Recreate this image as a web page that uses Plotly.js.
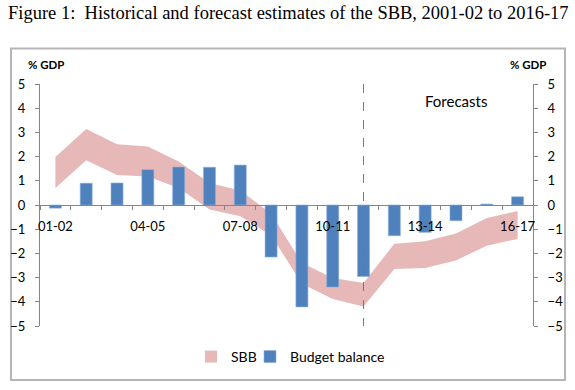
<!DOCTYPE html>
<html>
<head>
<meta charset="utf-8">
<script src="https://cdn.plot.ly/plotly-3.0.1.min.js"></script>
<style>html,body{margin:0;padding:0;background:#fff;}#chart{width:575px;height:390px;}</style>
</head>
<body>
<div id="chart"></div>
<script>
// ---- data ----
const CATEGORIES = ['01-02','02-03','03-04','04-05','05-06','06-07','07-08','08-09',
                    '09-10','10-11','11-12','12-13','13-14','14-15','15-16','16-17'];
const TICK_LABELS = ['01-02','','','04-05','','','07-08','','','10-11','','','13-14','','','16-17'];
const BUDGET_BALANCE = [-0.13, 0.90, 0.91, 1.46, 1.57, 1.56, 1.65, -2.15,
                        -4.21, -3.39, -2.95, -1.27, -1.13, -0.65, 0.04, 0.34];
const SBB_UPPER = [1.98, 3.14, 2.51, 2.42, 1.80, 0.91, 0.60, -0.35,
                   -2.40, -3.02, -3.22, -1.60, -1.50, -1.18, -0.54, -0.25];
const SBB_LOWER = [0.70, 1.85, 1.24, 1.18, 0.70, -0.19, -0.47, -1.25,
                   -3.25, -3.88, -4.19, -2.64, -2.60, -2.29, -1.68, -1.40];
const FORECAST_START = '11-12';
const FORECAST_LABEL_AT = {x: '14-15', y: 4.3};

const PINK = '#E6B9B8';
const BLUE = '#4F81BD';
const AXIS = '#868686';
const FONT = 'Lato, "Open Sans", sans-serif';

const traces = [
  {x: CATEGORIES, y: SBB_UPPER, type: 'scatter', mode: 'lines',
   line: {width: 0, color: PINK}, showlegend: false, hoverinfo: 'skip', yaxis: 'y'},
  {x: CATEGORIES, y: SBB_LOWER, type: 'scatter', mode: 'lines', fill: 'tonexty',
   fillcolor: PINK, line: {width: 0, color: PINK}, showlegend: false, name: 'SBB', yaxis: 'y'},
  {x: [CATEGORIES[0]], y: [null], type: 'bar', name: 'SBB', marker: {color: PINK},
   yaxis: 'y2', legend: 'legend'},
  {x: CATEGORIES, y: BUDGET_BALANCE, type: 'bar', name: 'Budget balance',
   marker: {color: BLUE, line: {color: '#8eaedb', width: 0.6}}, yaxis: 'y2', legend: 'legend2'}
];

const yCommon = {
  range: [-5, 5], dtick: 1, showgrid: false, zeroline: false,
  showline: true, linecolor: AXIS, linewidth: 1,
  ticks: 'outside', ticklen: 4, tickcolor: AXIS, ticklabelstandoff: 7,
  tickfont: {family: FONT, size: 13, color: '#000'}, fixedrange: true
};

const legendCommon = {
  orientation: 'h', xanchor: 'left', y: -0.128, yanchor: 'middle',
  font: {family: FONT, size: 14, color: '#000'}, itemclick: false, bgcolor: 'rgba(0,0,0,0)'
};

const layout = {
  width: 575, height: 390,
  margin: {l: 40, r: 42, t: 84, b: 64},
  paper_bgcolor: '#fff', plot_bgcolor: 'rgba(0,0,0,0)',
  title: {text: 'Figure 1:  Historical and forecast estimates of the SBB, 2001-02 to 2016-17',
          font: {family: '"Liberation Serif", "Times New Roman", serif', size: 18.5, color: '#000'},
          x: 8/575, xref: 'container', xanchor: 'left', y: 1 - 13/390, yref: 'container', yanchor: 'middle'},
  barmode: 'overlay', bargap: 0.61,
  showlegend: true,
  legend: Object.assign({}, legendCommon, {x: (191-40)/493}),
  legend2: Object.assign({}, legendCommon, {x: (250-40)/493}),
  xaxis: {
    type: 'category', range: [-0.5, 15.5], anchor: 'free', position: 0.5,
    tickmode: 'array', tickvals: CATEGORIES, ticktext: TICK_LABELS, tickson: 'boundaries',
    ticks: 'outside', ticklen: 4, tickcolor: AXIS, showline: true, linecolor: AXIS, linewidth: 1,
    showgrid: false, zeroline: false, tickangle: 0, ticklabelstandoff: 9,
    tickfont: {family: FONT, size: 13, color: '#000'}, fixedrange: true
  },
  yaxis: Object.assign({}, yCommon, {side: 'left'}),
  yaxis2: Object.assign({}, yCommon, {side: 'right', overlaying: 'y'}),
  shapes: [
    {type: 'line', xref: 'x', yref: 'y', x0: FORECAST_START, x1: FORECAST_START, y0: 5, y1: -5,
     line: {color: BLUE, width: 1, dash: 'dash'}},
    {type: 'rect', xref: 'paper', yref: 'paper', x0: (11-40)/493, x1: (565-40)/493,
     y0: (326-380)/242, y1: (326-48.5)/242, line: {color: '#b5b5b5', width: 2}, layer: 'below'}
  ],
  annotations: [
    {text: 'Forecasts', x: FORECAST_LABEL_AT.x, y: FORECAST_LABEL_AT.y, xref: 'x', yref: 'y',
     xanchor: 'center', yanchor: 'middle',
     showarrow: false, font: {family: FONT, size: 15, color: '#000'}},
    {text: '<b>% GDP</b>', xref: 'paper', yref: 'paper', x: (46-40)/493, y: (326-64)/242,
     xanchor: 'center', yanchor: 'middle',
     showarrow: false, font: {family: FONT, size: 11.5, color: '#000'}},
    {text: '<b>% GDP</b>', xref: 'paper', yref: 'paper', x: (527.5-40)/493, y: (326-64)/242,
     xanchor: 'center', yanchor: 'middle',
     showarrow: false, font: {family: FONT, size: 11.5, color: '#000'}}
  ]
};

Plotly.newPlot('chart', traces, layout, {staticPlot: true, displayModeBar: false});
</script>
</body>
</html>
